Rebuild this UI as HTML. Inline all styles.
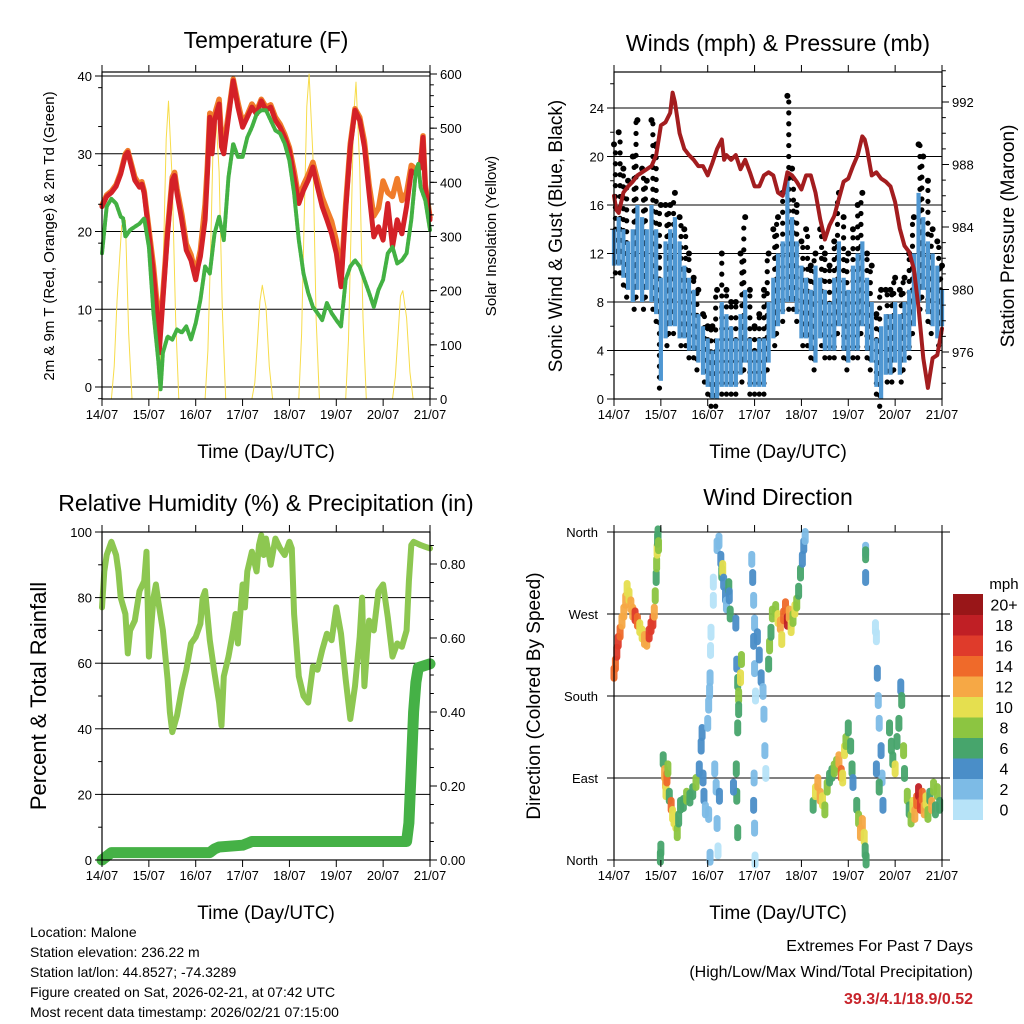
<!DOCTYPE html>
<html><head><meta charset="utf-8"><title>Station Meteogram</title>
<style>
html,body{margin:0;padding:0;background:#fff;}
svg{display:block;font-family:"Liberation Sans",Arial,sans-serif;}
</style></head>
<body>
<svg id="chart" width="1024" height="1024" viewBox="0 0 1024 1024" xmlns="http://www.w3.org/2000/svg">
<g id="layer"></g>
<text x="266" y="48" font-size="23" text-anchor="middle">Temperature (F)</text>
<text x="778" y="51" font-size="23" text-anchor="middle">Winds (mph) &amp; Pressure (mb)</text>
<text x="266" y="511" font-size="23" text-anchor="middle">Relative Humidity (%) &amp; Precipitation (in)</text>
<text x="778" y="505" font-size="23" text-anchor="middle">Wind Direction</text>
<text transform="translate(54,236) rotate(-90)" font-size="15" text-anchor="middle">2m &amp; 9m T (Red, Orange) &amp; 2m Td (Green)</text>
<text transform="translate(496,236) rotate(-90)" font-size="15" text-anchor="middle">Solar Insolation (Yellow)</text>
<text transform="translate(562,236) rotate(-90)" font-size="19" text-anchor="middle">Sonic Wind &amp; Gust (Blue, Black)</text>
<text transform="translate(1014,236) rotate(-90)" font-size="19" text-anchor="middle">Station Pressure (Maroon)</text>
<text transform="translate(46,696) rotate(-90)" font-size="22" text-anchor="middle">Percent &amp; Total Rainfall</text>
<text transform="translate(540,696) rotate(-90)" font-size="19" text-anchor="middle">Direction (Colored By Speed)</text>
<text x="266" y="458" font-size="19" text-anchor="middle">Time (Day/UTC)</text>
<text x="778" y="458" font-size="19" text-anchor="middle">Time (Day/UTC)</text>
<text x="266" y="919" font-size="19" text-anchor="middle">Time (Day/UTC)</text>
<text x="778" y="919" font-size="19" text-anchor="middle">Time (Day/UTC)</text>
<g font-size="14">
<text x="30" y="937">Location: Malone</text>
<text x="30" y="957">Station elevation: 236.22 m</text>
<text x="30" y="977">Station lat/lon: 44.8527; -74.3289</text>
<text x="30" y="997">Figure created on Sat, 2026-02-21, at 07:42 UTC</text>
<text x="30" y="1017">Most recent data timestamp: 2026/02/21 07:15:00</text>
</g>
<text x="973" y="951" font-size="16" text-anchor="end">Extremes For Past 7 Days</text>
<text x="973" y="977" font-size="16" text-anchor="end">(High/Low/Max Wind/Total Precipitation)</text>
<text x="973" y="1004" font-size="16" font-weight="bold" fill="#c8242b" text-anchor="end">39.3/4.1/18.9/0.52</text>
</svg>
<script>
// ---------- Temperature panel data ----------
const tempT = [0,.1,.2,.3,.4,.5,.55,.6,.7,.8,.85,.9,1,1.1,1.2,1.22,1.3,1.4,1.5,1.55,1.6,1.7,1.8,1.9,2,2.05,2.1,2.2,2.25,2.3,2.35,2.4,2.5,2.55,2.6,2.7,2.8,2.9,3,3.1,3.2,3.3,3.4,3.5,3.6,3.7,3.8,3.9,4,4.1,4.2,4.3,4.4,4.5,4.6,4.7,4.8,4.9,5,5.1,5.2,5.3,5.4,5.5,5.6,5.7,5.8,5.9,6,6.1,6.2,6.3,6.4,6.5,6.6,6.7,6.8,6.85,6.9,7];
const temp2m = [23.2,24.5,25,25.8,27.4,29.8,30.2,29,26.6,25.7,26.1,24.9,19.7,14.6,7.8,4.4,11.2,19.7,26.6,27.2,24.9,21.5,17.6,16.3,13.8,15.5,16.8,21.5,27.4,34.7,30,34.3,36.4,30.9,30,34.7,39.4,36,33.4,34.7,36,35.1,36.8,35.6,36,34.3,33.4,32.1,30.4,27,23.6,25.3,26.6,28.3,25.7,23.2,21.5,19.7,17.2,12.9,22.7,30.9,35.6,34.3,30.9,24.9,19.3,20.6,18.9,23.6,18,21.5,19.7,23.2,27.8,27.4,28.3,32.1,25.7,21.5];
const temp9m = [23.4,24.7,25.2,26,27.6,30,30.4,29.3,27,26,26.4,25.2,20.3,15.5,9.2,5.5,12,20.3,27,27.6,25.5,22.3,18.4,17,14.5,16.2,17.6,23.5,28.5,35.2,31,35,37,32,31,35.2,39.6,36.6,34,35,36.4,35.5,37,36,36.3,34.7,33.8,32.5,30.8,27.8,24.3,26,27.3,28.9,26.6,24.4,22.8,21.3,18.8,14,23.5,31.3,35.8,34.7,31.6,26,22,23,26.5,25,24.5,26.8,24,25,28.5,28,28.6,32.3,26,21.8];
const dewT = [0,.1,.2,.3,.4,.45,.5,.6,.7,.8,.9,1,1.1,1.2,1.25,1.3,1.4,1.5,1.6,1.7,1.8,1.9,2,2.1,2.2,2.3,2.4,2.5,2.6,2.7,2.8,2.9,3,3.1,3.2,3.3,3.4,3.5,3.6,3.7,3.8,3.9,4,4.1,4.2,4.3,4.4,4.5,4.6,4.7,4.8,4.9,5,5.1,5.2,5.3,5.4,5.5,5.6,5.7,5.8,5.9,6,6.1,6.2,6.3,6.4,6.5,6.6,6.7,6.75,6.8,6.9,7];
const dewV = [17.2,23.2,24.2,23.6,21.9,21.7,19.3,20.2,20.6,21,21.7,18,9.5,3.5,-0.3,4.4,6.5,6.1,7.4,7,7.8,6.1,8.2,11.2,15.5,14.6,19.7,21.9,18.9,27,31.3,29.6,29.6,32.1,33.4,35.1,35.6,35.6,34.3,33,32.6,31.3,29.1,24.9,18.9,14.6,12.1,10.3,9.5,8.6,10.8,9.5,8.6,7.8,13.8,15.5,16.3,15.5,13.8,12.1,10.3,12.5,13.8,17.2,18,15.9,16.3,17.2,21.5,27.8,28.7,25.7,24,20.2];
const solT = [0.2,0.26,0.32,0.37,0.42,0.5,0.57,0.64, 1.2,1.26,1.32,1.37,1.42,1.5,1.57,1.64, 2.2,2.26,2.32,2.37,2.42,2.5,2.57,2.64, 3.2,3.26,3.32,3.37,3.42,3.5,3.57,3.64, 4.2,4.26,4.32,4.37,4.42,4.5,4.57,4.64, 5.2,5.26,5.32,5.37,5.42,5.5,5.57,5.64, 6.2,6.26,6.32,6.37,6.42,6.5,6.57,6.64];
const solV = [0,60,180,250,320,330,120,0, 0,100,300,480,550,400,150,0, 0,90,280,470,540,420,160,0, 0,30,110,180,210,170,60,0, 0,120,350,540,600,450,150,0, 0,110,330,520,585,430,150,0, 0,40,120,190,200,150,50,0];
// ---------- Wind panel data (0.1 day samples) ----------
const windHi = [14,15,14,13,14,16,15,14,16,14,10,13,14,15,13,11,10,9,7,6,5,4,5,8,7,6,5,7,9,5,4,5,5,8,10,12,13,18,15,13,11,10,9,11,10,9,8,10,13,10,9,11,12,13,10,8,5,6,7,7,8,7,8,9,12,17,15,13,12,11,9];
const windLo = [11,11,10,9,8,9,8,9,8,7,1.5,5,6,6,5,5,4,4,3,2,1,0,0,1,1,1,1,2,3,1,1,1,1,3,5,6,7,8,8,7,5,5,4,3,5,4,4,4,6,4,3,4,4,6,4,3,1,0,2,2,3,2,3,4,6,8,9,7,6,5,6];
const gustV = [21,22,19,18,20,23,19,18,23,21,16,16,16,17,15,14,12,10,9,7,6,6,9,12,9,8,8,12,15,9,6,7,9,12,14,15,17,25,19,16,13,14,11,12,14,12,11,13,17,15,12,14,16,17,12,11,7,9,9,9,10,9,10,12,15,21,20,18,14,13,11];
const presT = [0,.05,.1,.2,.3,.4,.5,.6,.7,.8,.9,1,1.1,1.2,1.25,1.3,1.4,1.5,1.6,1.7,1.8,1.9,2,2.1,2.2,2.3,2.35,2.4,2.5,2.6,2.7,2.8,2.9,3,3.1,3.2,3.3,3.4,3.5,3.6,3.7,3.8,3.9,4,4.1,4.2,4.3,4.4,4.5,4.6,4.7,4.8,4.9,5,5.1,5.2,5.3,5.35,5.4,5.5,5.6,5.7,5.8,5.9,6,6.1,6.2,6.3,6.4,6.5,6.6,6.7,6.8,6.9,7];
const presV = [986,985.1,984.9,986.2,986.6,986.9,987.3,987.5,987.7,987.9,988.6,990.5,990.7,991.3,992.6,992,990,989,988.6,988.3,987.9,987.9,987.3,988.1,989,989.6,988.3,988.6,988.3,988.6,987.7,988.3,987.5,986.6,986.6,987.3,987.5,987.3,986.2,986,987.5,987.3,986.9,986.4,987.3,987.3,986.2,984.5,983.2,984.1,984.7,985.8,986.9,987.1,987.9,988.6,989.8,989.6,989,987.3,987.5,987.1,986.9,986.6,985.6,983.9,982.8,982.4,981.3,978.8,975.6,973.7,975.6,975.8,977.5];
// ---------- Humidity / rain data ----------
const rhT = [0,.05,.1,.2,.3,.35,.4,.5,.55,.6,.7,.8,.9,.95,1,1.1,1.15,1.2,1.3,1.4,1.45,1.5,1.6,1.7,1.8,1.9,2,2.1,2.15,2.2,2.3,2.4,2.5,2.55,2.6,2.7,2.8,2.85,2.9,3,3.05,3.1,3.2,3.3,3.35,3.4,3.45,3.5,3.6,3.7,3.8,3.9,4,4.05,4.1,4.2,4.3,4.4,4.5,4.6,4.7,4.8,4.9,5,5.1,5.2,5.3,5.4,5.5,5.55,5.6,5.7,5.8,5.9,6,6.1,6.2,6.3,6.4,6.5,6.55,6.6,6.65,6.8,6.9,7];
const rhV = [77,88,93,97,93,88,80,75,63,70,73,82,85,94,62,80,84,79,70,55,45,39,44,52,58,66,68,72,80,82,67,57,48,41,56,62,70,75,66,84,77,88,94,88,96,99,93,98,90,98,95,93,97,95,75,56,50,48,59,58,64,69,67,77,69,55,43,53,68,80,53,73,70,82,84,74,62,66,65,70,85,96,97,96,95.5,95];
const rainT = [0,0.2,1.0,2.3,2.4,2.5,3.0,3.1,3.2,6.5,6.55,6.6,6.65,6.7,6.75,7.0];
const rainV = [0,0.02,0.02,0.02,0.03,0.035,0.04,0.045,0.05,0.05,0.1,0.25,0.4,0.48,0.52,0.53];
// ---------- Wind direction data ----------
const dirT = [0,.03,.06,.09,.13,.17,.21,.25,.28,.32,.36,.40,.45,.50,.55,.60,.65,.70,.75,.79,.83,.86,.88,.90,.91,.92,.93,.94,.95,.99,1.0,1.05,1.08,1.10,1.11,1.13,1.15,1.18,1.22,1.25,1.28,1.32,1.35,1.38,1.42,1.48,1.55,1.62,1.68,1.75,1.82,1.86,1.88,1.90,1.92,1.95,2.0,2.02,2.04,2.05,2.06,2.07,2.02,2.05,2.15,2.18,2.2,2.22,2.25,2.12,2.12,2.2,2.24,2.28,2.3,2.32,2.34,2.38,2.4,2.45,2.46,2.48,2.6,2.62,2.64,2.66,2.7,2.72,2.66,2.64,2.61,2.62,2.64,2.55,2.94,2.96,2.98,3.0,2.98,3.0,3.02,2.99,2.98,3.0,3.01,3.06,3.1,3.14,3.18,3.2,3.22,3.24,3.3,3.32,3.35,3.38,3.45,3.5,3.55,3.58,3.62,3.66,3.7,3.74,3.78,3.82,3.86,3.9,3.94,3.98,4.02,4.05,4.08,4.25,4.3,4.35,4.4,4.45,4.5,4.55,4.6,4.65,4.7,4.75,4.8,4.85,4.88,4.92,4.95,5.0,5.05,5.08,5.1,5.18,5.22,5.26,5.3,5.34,5.36,5.38,5.37,5.37,5.37,5.58,5.6,5.62,5.64,5.66,5.7,5.72,5.74,5.6,5.66,5.88,5.92,5.95,6.0,6.04,6.08,6.12,6.14,6.18,6.2,6.26,6.3,6.34,6.38,6.42,6.46,6.5,6.54,6.58,6.62,6.66,6.7,6.74,6.78,6.82,6.86,6.9,6.95];
const dirDeg = [205,215,228,240,250,262,272,285,298,290,280,272,268,262,255,248,242,240,248,256,262,272,290,310,325,340,352,358,345,3,12,110,95,85,75,90,100,70,60,50,45,40,30,45,60,62,70,68,75,85,100,125,140,90,70,55,150,170,185,200,230,250,50,3,100,80,40,10,70,285,305,345,350,330,315,320,305,290,280,300,290,270,260,215,195,180,200,220,165,145,100,70,30,80,330,310,285,260,240,210,180,90,60,35,0,245,225,200,185,160,120,95,215,235,250,270,275,265,258,242,268,278,262,270,255,265,275,282,295,315,330,345,355,60,75,85,70,65,55,80,90,95,100,105,110,95,90,120,130,145,125,100,85,60,45,30,40,25,10,0,340,335,310,255,245,205,175,150,120,90,60,100,80,145,125,110,100,130,150,190,175,120,95,70,55,45,60,50,65,75,60,70,55,65,50,70,60,80,55,75,60];
const dirSpd = [14,15,16,17,14,13,12,12,11,10,12,13,16,15,11,10,12,13,16,17,16,12,8,7,9,10,6,7,8,6,6,6,12,13,10,15,8,6,14,10,11,10,8,7,6,7,8,7,6,9,5,4,4,4,5,3,3,2,2,2,1,1,2,2,3,3,3,1,4,1,1,2,3,4,7,10,4,4,2,6,4,6,4,4,6,8,10,9,7,6,6,6,6,4,2,4,3,2,4,2,1,3,4,2,1,4,4,4,3,2,2,1,6,8,7,8,9,11,12,10,14,15,19,12,11,8,10,8,7,6,5,4,3,7,10,12,13,11,8,9,7,6,8,9,12,14,11,10,8,6,7,6,5,6,8,12,13,10,7,6,2,6,4,1,1,4,3,2,4,3,4,4,6,7,6,6,10,7,6,4,6,8,7,8,7,9,11,12,14,18,16,15,13,10,8,7,12,9,7,8,6];
const speedBins = ["0","2","4","6","8","10","12","14","16","18","20+"];
const speedColors = ["#b7e3f8","#7dbbe6","#4a8ec8","#47a56c","#8cc541","#e5df4f","#f6a845","#ef6a2a","#df3b2b","#c01f25","#991618"];
const dirLabels = ["North","East","South","West","North"];
const dirTicks = [0,90,180,270,360];
const dayLabels = ["14/07","15/07","16/07","17/07","18/07","19/07","20/07","21/07"];

// ---------- helpers ----------
const NS = "http://www.w3.org/2000/svg";
const layer = document.getElementById("layer");
function mk(tag, attrs, parent){
  const e = document.createElementNS(NS, tag);
  for (const k in attrs) e.setAttribute(k, attrs[k]);
  (parent || layer).appendChild(e);
  return e;
}
function grp(name){
  const g = mk("g", {});
  
  
  return g;
}
const P1 = {L:102,R:430,T:72,B:399};
const P2 = {L:614,R:942,T:72,B:399};
const P3 = {L:102,R:430,T:532,B:860};
const P4 = {L:614,R:942,T:532,B:860};
const xOf = (P, t) => P.L + t * (P.R - P.L) / 7;
const yTemp = v => 387 - v * 7.775;
const ySol = v => 399 - v * (325 / 600);
const yWind = v => 399 - v * 12.125;
const yPres = p => 352 - (p - 976) * 15.625;
const yRH = v => 860 - v * 3.28;
const yRain = v => 860 - v * 370;
const yDir = d => 860 - d * 328 / 360;

function frame(P, name){
  const r = mk("rect", {x:P.L, y:P.T, width:P.R-P.L, height:P.B-P.T, fill:"none", stroke:"#000", "stroke-width":1.2});
  
  
}
function xAxis(P, prefix){
  const g = grp(prefix + "-x-axis");
  for (let i = 0; i < dayLabels.length; i++){
    const x = xOf(P, i);
    mk("line", {x1:x, x2:x, y1:P.B, y2:P.B+7, stroke:"#000"}, g);
    mk("line", {x1:x, x2:x, y1:P.T, y2:P.T-7, stroke:"#000"}, g);
    const t = mk("text", {x:x, y:P.B+20, "font-size":13, "text-anchor":"middle"}, g);
    
    
    t.textContent = dayLabels[i];
  }
}
function hGrid(P, vals, yf, g){
  vals.forEach(v => mk("line", {x1:P.L, x2:P.R, y1:yf(v), y2:yf(v), stroke:"#000", "stroke-width":1}, g));
}
function yTicks(P, vals, yf, labels, side, g, minor){
  const left = side === "left";
  const x0 = left ? P.L : P.R;
  const d = left ? -7 : 7;
  (minor || []).forEach(v => mk("line", {x1:x0, x2:x0 + d*0.55, y1:yf(v), y2:yf(v), stroke:"#000"}, g));
  vals.forEach((v, i) => {
    mk("line", {x1:x0, x2:x0 + d, y1:yf(v), y2:yf(v), stroke:"#000"}, g);
    const t = mk("text", {x: left ? x0 - 10 : x0 + 10, y: yf(v) + 5, "font-size":13, "text-anchor": left ? "end" : "start"}, g);
    
    
    t.textContent = labels[i];
  });
}
function path(P, ts, vs, yf, stroke, width, name, extra){
  const d = ts.map((t, i) => (i ? "L" : "M") + xOf(P, t).toFixed(1) + "," + yf(vs[i]).toFixed(1)).join(" ");
  const attrs = {d:d, fill:"none", stroke:stroke, "stroke-width":width, "stroke-linejoin":"round", "stroke-linecap":"round"};
  for (const k in (extra || {})) attrs[k] = extra[k];
  const p = mk("path", attrs);
  
  
  return p;
}
function range(a, b, s){ const r = []; for (let v = a; v <= b + 1e-9; v += s) r.push(+v.toFixed(4)); return r; }

// ---------- Panel 1: temperature ----------
{
  const g = grp("temperature-grid");
  hGrid(P1, [0,10,20,30,40], yTemp, g);
  path(P1, solT, solV, ySol, "#f7dc4a", 1, "solar-insolation-line");
  path(P1, tempT, temp9m, yTemp, "#f07c2a", 5.5, "temp-9m-line");
  path(P1, tempT, temp2m, yTemp, "#d42127", 5, "temp-2m-line");
  path(P1, dewT, dewV, yTemp, "#43b143", 4, "dewpoint-line", {"stroke-dasharray":"3 1.5"});
  frame(P1, "temperature-plot-frame");
  const ga = grp("temperature-y-axis");
  yTicks(P1, [0,10,20,30,40], yTemp, ["0","10","20","30","40"], "left", ga, range(-1.5,41,5).filter(v=>v%10!==0 && v>=-1.5));
  const gb = grp("solar-y-axis");
  yTicks(P1, [0,100,200,300,400,500,600], ySol, ["0","100","200","300","400","500","600"], "right", gb, range(20,600,20));
  xAxis(P1, "temperature");
}
// ---------- Panel 2: winds & pressure ----------
{
  const g = grp("wind-grid");
  hGrid(P2, [4,8,12,16,20,24], yWind, g);
  const gg = grp("gust-points");
  const gb = grp("sonic-wind-bars");
  const dx = (P2.R - P2.L) / 70;
  windHi.forEach((hi, i) => {
    const t = i * 0.1;
    const x = xOf(P2, t);
    for (let v = windLo[i] - 0.6; v <= gustV[i]; v += 0.9){
      const c = mk("circle", {cx:x + ((Math.round(v*10)%3)-1)*1.4, cy:yWind(v), r:2.6, fill:"#000"}, gg);
      
      
    }
    const c2 = mk("circle", {cx:x, cy:yWind(gustV[i]), r:3, fill:"#000"}, gg);
    
    
    const r = mk("rect", {x:x - dx*0.45, y:yWind(hi), width:dx*0.9, height:Math.max(2, yWind(windLo[i]) - yWind(hi)), fill:"#4f97d2"}, gb);
    
    
  });
  path(P2, presT, presV, yPres, "#a31d1f", 4, "pressure-line");
  frame(P2, "winds-plot-frame");
  const ga = grp("wind-y-axis");
  yTicks(P2, [0,4,8,12,16,20,24], yWind, ["0","4","8","12","16","20","24"], "left", ga, [2,6,10,14,18,22,26]);
  const gp = grp("pressure-y-axis");
  yTicks(P2, [976,980,984,988,992], yPres, ["976","980","984","988","992"], "right", gp, range(974,994,1).filter(v=>v%4!==0));
  xAxis(P2, "winds");
}
// ---------- Panel 3: humidity & rain ----------
{
  const g = grp("humidity-grid");
  hGrid(P3, [20,40,60,80], yRH, g);
  path(P3, rhT, rhV, yRH, "#8dc751", 6, "relative-humidity-line");
  path(P3, rainT, rainV, yRain, "#45b146", 11, "rainfall-line");
  frame(P3, "humidity-plot-frame");
  const ga = grp("humidity-y-axis");
  yTicks(P3, [0,20,40,60,80,100], yRH, ["0","20","40","60","80","100"], "left", ga, [10,30,50,70,90]);
  const gr = grp("rain-y-axis");
  yTicks(P3, [0,0.2,0.4,0.6,0.8], yRain, ["0.00","0.20","0.40","0.60","0.80"], "right", gr, range(0.05,0.85,0.05).filter(v=>Math.abs(v*10-Math.round(v*10))>0.01 || Math.round(v*10)%2===1));
  xAxis(P3, "humidity");
}
// ---------- Panel 4: wind direction ----------
{
  const g = grp("direction-grid");
  mk("line", {x1:P4.L, x2:P4.R+8, y1:yDir(0), y2:yDir(0), stroke:"#000"}, g);
  mk("line", {x1:P4.L, x2:P4.R+8, y1:yDir(360), y2:yDir(360), stroke:"#000"}, g);
  hGrid({L:P4.L, R:P4.R+8}, [90,180,270], yDir, g);
  const gp = grp("direction-points");
  dirT.forEach((t, i) => {
    const bin = Math.min(10, Math.floor(dirSpd[i] / 2));
    const x = xOf(P4, t), y = yDir(dirDeg[i]);
    const p = mk("line", {x1:x, x2:x, y1:y - 5, y2:y + 5, stroke:speedColors[bin], "stroke-width":7, "stroke-linecap":"round", opacity:0.95}, gp);
    
    
  });
  mk("line", {x1:P4.L, x2:P4.L, y1:P4.T, y2:P4.B, stroke:"#000", "stroke-width":1.2});
  mk("line", {x1:P4.R, x2:P4.R, y1:P4.T, y2:P4.B, stroke:"#000", "stroke-width":1.2});
  const ga = grp("direction-y-axis");
  dirTicks.forEach((d, i) => {
    mk("line", {x1:P4.L, x2:P4.L-7, y1:yDir(d), y2:yDir(d), stroke:"#000"}, ga);
    const t = mk("text", {x:P4.L-16, y:yDir(d)+5, "font-size":13, "text-anchor":"end"}, ga);
    
    
    t.textContent = dirLabels[i];
  });
  xAxis(P4, "direction");
  const gc = grp("speed-colorbar");
  const cbT = 594, cbH = 20.5;
  speedColors.forEach((c, i) => {
    const y = cbT + (10 - i) * cbH;
    const r = mk("rect", {x:953, y:y, width:30, height:cbH + 0.5, fill:c}, gc);
    
    
    const t = mk("text", {x:1004, y:y + cbH/2 + 6, "font-size":16, "text-anchor":"middle"}, gc);
    
    
    t.textContent = speedBins[i];
  });
  const u = mk("text", {x:1004, y:589, "font-size":15, "text-anchor":"middle"}, gc);
  
  
  u.textContent = "mph";
}
</script>
</body></html>
